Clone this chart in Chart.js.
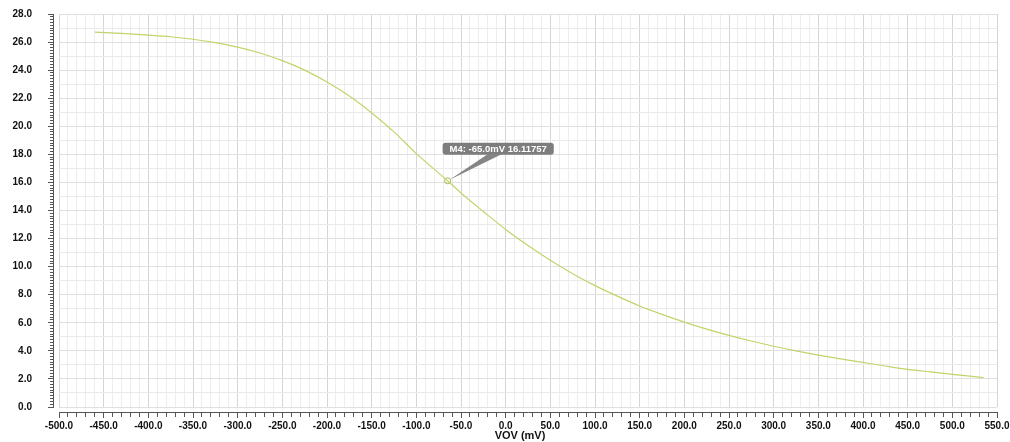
<!DOCTYPE html>
<html><head><meta charset="utf-8">
<script src="https://cdn.jsdelivr.net/npm/chart.js@4.4.1/dist/chart.umd.min.js"></script>
<style>html,body{margin:0;padding:0;background:#fff}#wrap{width:1010px;height:442px;position:relative}</style>
</head><body><div id="wrap"><canvas id="c"></canvas></div>
<script>
// ---- data ----
const vov = [-460, -425, -400, -375, -350, -325, -300, -275, -250, -225, -200, -175, -150, -125, -100, -65, -50, -25, 0, 25, 50, 75, 100, 125, 150, 175, 200, 225, 250, 275, 300, 325, 350, 375, 400, 425, 450, 475, 500, 535];
const curveValues = [26.71, 26.60, 26.50, 26.38, 26.20, 25.96, 25.64, 25.22, 24.68, 24.00, 23.15, 22.15, 20.95, 19.60, 18.05, 16.12, 15.25, 13.93, 12.65, 11.50, 10.45, 9.50, 8.65, 7.90, 7.20, 6.60, 6.05, 5.55, 5.10, 4.70, 4.33, 4.00, 3.70, 3.43, 3.18, 2.92, 2.68, 2.50, 2.33, 2.09];
const markerVov = [-65.0];
const markerValue = [16.11757];
const markerLabel = 'M4: -65.0mV 16.11757';
const xTitle = 'VOV (mV)';
const xRange = [-500, 550];
const yRange = [0, 28];

const fontFamily = '"Liberation Sans", Arial, Helvetica, sans-serif';
Chart.defaults.font.family = fontFamily;

const lineColor = '#c5d26a';
const axisColor = '#555555';

const markerLabelPlugin = {
  id: 'markerLabel',
  afterDatasetsDraw(chart) {
    const {ctx, scales: {x, y}} = chart;
    const px = x.getPixelForValue(markerVov[0]);
    const py = y.getPixelForValue(markerValue[0]);
    ctx.save();
    ctx.font = 'bold 9.5px ' + fontFamily;
    const tw = ctx.measureText(markerLabel).width;
    const bx = px - 5, by = py - 38, bw = tw + 14, bh = 12;
    ctx.fillStyle = '#858585';
    ctx.beginPath();
    ctx.moveTo(px + 2, py - 1);
    ctx.lineTo(px + 40, by + bh - 0.5);
    ctx.lineTo(px + 54, by + bh - 0.5);
    ctx.closePath();
    ctx.fill();
    ctx.fillStyle = '#7d7d7d';
    ctx.beginPath();
    if (ctx.roundRect) ctx.roundRect(bx, by, bw, bh, 3); else ctx.rect(bx, by, bw, bh);
    ctx.fill();
    ctx.fillStyle = '#ffffff';
    ctx.textBaseline = 'middle';
    ctx.textAlign = 'left';
    ctx.fillText(markerLabel, bx + 7, by + bh / 2 + 0.5);
    ctx.restore();
  }
};

const axisTitlePlugin = {
  id: 'axisTitle',
  afterDraw(chart) {
    const {ctx, chartArea} = chart;
    ctx.save();
    ctx.font = 'bold 11px ' + fontFamily;
    ctx.fillStyle = '#111';
    ctx.textAlign = 'center';
    ctx.textBaseline = 'middle';
    ctx.fillText(xTitle, (chartArea.left + chartArea.right) / 2 - 8, chartArea.bottom + 29);
    ctx.restore();
  }
};

const tickFont = {size: 10, weight: 'bold'};

new Chart(document.getElementById('c'), {
  type: 'line',
  data: {
    datasets: [
      {
        data: vov.map((v, i) => ({x: v, y: curveValues[i]})),
        borderColor: lineColor,
        borderWidth: 1.2,
        pointRadius: 0,
        cubicInterpolationMode: 'monotone',
        xAxisID: 'x', yAxisID: 'y'
      },
      {
        data: markerVov.map((v, i) => ({x: v, y: markerValue[i]})),
        showLine: false,
        pointRadius: 3,
        pointBorderWidth: 1,
        pointBorderColor: '#a9b84a',
        pointBackgroundColor: 'rgba(0,0,0,0)',
        xAxisID: 'x', yAxisID: 'y'
      }
    ]
  },
  options: {
    responsive: true,
    maintainAspectRatio: false,
    animation: false,
    layout: {padding: {left: 0, top: 14, right: 13, bottom: 0}},
    plugins: {legend: {display: false}, tooltip: {enabled: false}},
    scales: {
      x: {
        type: 'linear', position: 'bottom', min: xRange[0], max: xRange[1],
        ticks: {
          stepSize: 10, autoSkip: false, maxRotation: 0, minRotation: 0, padding: 13,
          color: '#111', font: tickFont,
          callback: v => (Math.round(v) % 50 === 0 ? Number(v).toFixed(1) : '')
        },
        grid: {
          drawTicks: false, lineWidth: 1,
          color: ctx => (ctx.tick && Math.round(ctx.tick.value) % 50 === 0) ? '#d5d5d5' : '#ededed'
        },
        border: {display: false},
        title: {display: false},
        afterFit(s) { s.height = 35; s.paddingLeft = 0; s.paddingRight = 0; }
      },
      y: {
        type: 'linear', position: 'left', min: yRange[0], max: yRange[1],
        ticks: {
          stepSize: 1, autoSkip: false, padding: 27, color: '#111', font: tickFont,
          callback: v => (Math.round(v) % 2 === 0 ? Number(v).toFixed(1) : '')
        },
        grid: {
          drawTicks: false, lineWidth: 1,
          color: ctx => (ctx.tick && Math.round(ctx.tick.value) % 2 === 0) ? '#e0e0e0' : '#eaeaea'
        },
        border: {display: false},
        afterFit(s) { s.width = 59; s.paddingTop = 0; s.paddingBottom = 0; }
      },
      xAxisMinor: {
        type: 'linear', axis: 'x', position: {y: -0.36}, min: xRange[0], max: xRange[1],
        ticks: {stepSize: 10, display: false},
        grid: {drawOnChartArea: false, drawTicks: true, tickLength: 4, tickColor: axisColor, tickWidth: 1},
        border: {display: true, color: axisColor, width: 1}
      },
      xAxisMajor: {
        type: 'linear', axis: 'x', position: {y: -0.36}, min: xRange[0], max: xRange[1],
        ticks: {stepSize: 50, display: false},
        grid: {drawOnChartArea: false, drawTicks: true, tickLength: 6, tickColor: axisColor, tickWidth: 1},
        border: {display: false}
      },
      yAxisMinor: {
        type: 'linear', axis: 'y', position: {x: -505.6}, min: yRange[0], max: yRange[1],
        ticks: {stepSize: 0.2, display: false},
        grid: {drawOnChartArea: false, drawTicks: true, tickLength: 3, tickColor: axisColor, tickWidth: 1},
        border: {display: true, color: axisColor, width: 1}
      },
      yAxisMajor: {
        type: 'linear', axis: 'y', position: {x: -505.6}, min: yRange[0], max: yRange[1],
        ticks: {stepSize: 2, display: false},
        grid: {drawOnChartArea: false, drawTicks: true, tickLength: 6, tickColor: axisColor, tickWidth: 1},
        border: {display: false}
      }
    }
  },
  plugins: [markerLabelPlugin, axisTitlePlugin]
});
</script>
</body></html>
